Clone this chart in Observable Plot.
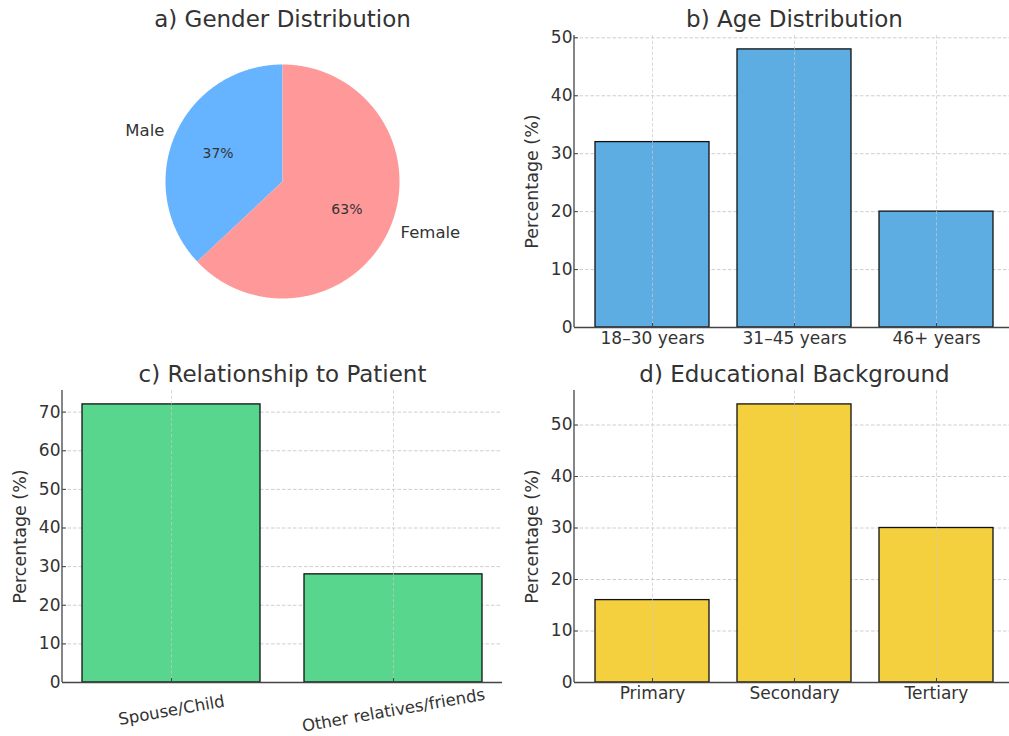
<!DOCTYPE html>
<html>
<head>
<meta charset="utf-8">
<script src="https://cdn.jsdelivr.net/npm/d3@7"></script>
<script src="https://cdn.jsdelivr.net/npm/@observablehq/plot@0.6"></script>
<style>
  html, body { margin: 0; padding: 0; background: #fff; overflow: hidden; }
  #root { position: relative; width: 1009px; height: 736px; overflow: hidden; background: #fff; }
  .panel { position: absolute; }
  .panel svg { max-width: none !important; overflow: visible; }
</style>
</head>
<body>
<div id="root"></div>
<script>
// ---------- data ----------
const genderLabels = ["Male", "Female"];
const genderValues = [37, 63];
const genderColors = ["#66b3ff", "#ff9999"];

const ageLabels = ["18–30 years", "31–45 years", "46+ years"];
const ageValues = [32, 48, 20];
const ageTicks = [0, 10, 20, 30, 40, 50];

const relLabels = ["Spouse/Child", "Other relatives/friends"];
const relValues = [72, 28];
const relTicks = [0, 10, 20, 30, 40, 50, 60, 70];

const eduLabels = ["Primary", "Secondary", "Tertiary"];
const eduValues = [16, 54, 30];
const eduTicks = [0, 10, 20, 30, 40, 50];

const titles = ["a) Gender Distribution", "b) Age Distribution", "c) Relationship to Patient", "d) Educational Background"];
const yLabel = "Percentage (%)";

// ---------- helpers ----------
const FONT = "DejaVu Sans, sans-serif";
const TXT = "#333333";
const root = document.getElementById("root");

function place(node, left, top) {
  const d = document.createElement("div");
  d.className = "panel";
  d.style.left = left + "px";
  d.style.top = top + "px";
  d.appendChild(node);
  root.appendChild(d);
}

const leftSpine = (index, scales, values, dims) => {
  const l = dims.marginLeft;
  return d3.create("svg:line")
    .attr("x1", l).attr("x2", l)
    .attr("y1", dims.marginTop).attr("y2", dims.height - dims.marginBottom)
    .attr("stroke", "#444").attr("stroke-width", 1.3).node();
};

function barPanel({labels, values, ticks, color, title, width, height, marginLeft, marginTop, marginBottom, paddingOuter, rotateLabels}) {
  const data = labels.map((c, i) => ({cat: c, val: values[i]}));
  const ymax = d3.max(values) * 1.05;
  const marks = [
    Plot.gridY(ticks, {stroke: "#c8c8c8", strokeOpacity: 1, strokeWidth: 0.9, strokeDasharray: "3.5,2"}),
    Plot.barY(data, {x: "cat", y: "val", fill: color, stroke: "#111", strokeWidth: 1.3}),
    Plot.gridX(labels, {stroke: "#c8c8c8", strokeOpacity: 0.75, strokeWidth: 0.9, strokeDasharray: "3.5,2"}),
    Plot.ruleY([0], {stroke: "#444", strokeWidth: 1.3}),
    leftSpine,
    Plot.axisY(ticks, {tickSize: -4, tickPadding: 6, fontSize: 17, stroke: "#444", fill: TXT}),
    Plot.text([yLabel], {text: d => d, frameAnchor: "left", rotate: -90, dx: -42, fontSize: 17.5, fill: TXT, textAnchor: "middle", lineAnchor: "middle"}),
    Plot.text([title], {text: d => d, frameAnchor: "top", dy: -16, fontSize: 23, fill: TXT, lineAnchor: "middle"})
  ];
  if (rotateLabels) {
    marks.push(Plot.axisX(labels, {tickSize: -4, text: null, stroke: "#444"}));
    marks.push(Plot.text(data, {x: "cat", text: "cat", frameAnchor: "bottom", dy: 28, rotate: -10, fontSize: 16.5, fill: TXT, textAnchor: "middle", lineAnchor: "middle"}));
  } else {
    marks.push(Plot.axisX(labels, {tickSize: -4, tickPadding: 8, fontSize: 17, stroke: "#444", fill: TXT}));
  }
  return Plot.plot({
    width, height, marginLeft, marginRight: 0, marginTop, marginBottom,
    style: {fontFamily: FONT, fontSize: "16px", color: TXT, background: "transparent", overflow: "visible"},
    x: {type: "band", domain: labels, paddingInner: 0.2, paddingOuter, label: null, axis: null},
    y: {domain: [0, ymax], label: null, axis: null},
    marks
  });
}

// ---------- a) pie ----------
(function () {
  const total = d3.sum(genderValues);
  const slices = [];
  const labelsData = [];
  let a0 = 90; // start angle (degrees, counter-clockwise from +x)
  genderLabels.forEach((lab, i) => {
    const span = genderValues[i] / total * 360;
    const a1 = a0 + span;
    const pts = [{slice: lab, x: 0, y: 0}];
    const n = Math.max(2, Math.ceil(span * 2));
    for (let k = 0; k <= n; k++) {
      const t = (a0 + span * k / n) * Math.PI / 180;
      pts.push({slice: lab, x: Math.cos(t), y: Math.sin(t)});
    }
    pts.push({slice: lab, x: 0, y: 0});
    slices.push({lab, color: genderColors[i], pts});
    const mid = (a0 + span / 2) * Math.PI / 180;
    labelsData.push({
      text: lab, x: 1.1 * Math.cos(mid), y: 1.1 * Math.sin(mid),
      anchor: Math.cos(mid) < 0 ? "end" : "start",
      pct: Math.round(genderValues[i] / total * 100) + "%",
      px: 0.6 * Math.cos(mid), py: 0.6 * Math.sin(mid)
    });
    a0 = a1;
  });
  const marks = slices.map(s => Plot.line(s.pts, {x: "x", y: "y", fill: s.color, stroke: "none", curve: "linear"}));
  labelsData.forEach(d => {
    marks.push(Plot.text([d], {x: "x", y: "y", text: "text", textAnchor: d.anchor, lineAnchor: "middle", fontSize: 16.5, fill: TXT}));
  });
  marks.push(Plot.text(labelsData, {x: "px", y: "py", text: "pct", textAnchor: "middle", lineAnchor: "middle", fontSize: 14, fill: TXT}));
  marks.push(Plot.text([titles[0]], {text: d => d, frameAnchor: "top", dy: -45, fontSize: 23, fill: TXT, lineAnchor: "middle"}));
  const p = Plot.plot({
    width: 500, height: 368,
    marginLeft: 165, marginRight: 101, marginTop: 64, marginBottom: 70,
    style: {fontFamily: FONT, fontSize: "16px", color: TXT, background: "transparent", overflow: "visible"},
    x: {domain: [-1, 1], axis: null},
    y: {domain: [-1, 1], axis: null},
    marks
  });
  place(p, 0, 0);
})();

// ---------- b) age ----------
place(barPanel({labels: ageLabels, values: ageValues, ticks: ageTicks, color: "#5dade2", title: titles[1],
  width: 514, height: 368, marginLeft: 74, marginTop: 35, marginBottom: 41, paddingOuter: 0.14}), 500, 0);

// ---------- c) relationship ----------
place(barPanel({labels: relLabels, values: relValues, ticks: relTicks, color: "#58d68d", title: titles[2],
  width: 502, height: 368, marginLeft: 62, marginTop: 22, marginBottom: 54, paddingOuter: 0.09, rotateLabels: true}), 0, 368);

// ---------- d) education ----------
place(barPanel({labels: eduLabels, values: eduValues, ticks: eduTicks, color: "#f4d03f", title: titles[3],
  width: 514, height: 368, marginLeft: 74, marginTop: 22, marginBottom: 54, paddingOuter: 0.14}), 500, 368);
</script>
</body>
</html>
